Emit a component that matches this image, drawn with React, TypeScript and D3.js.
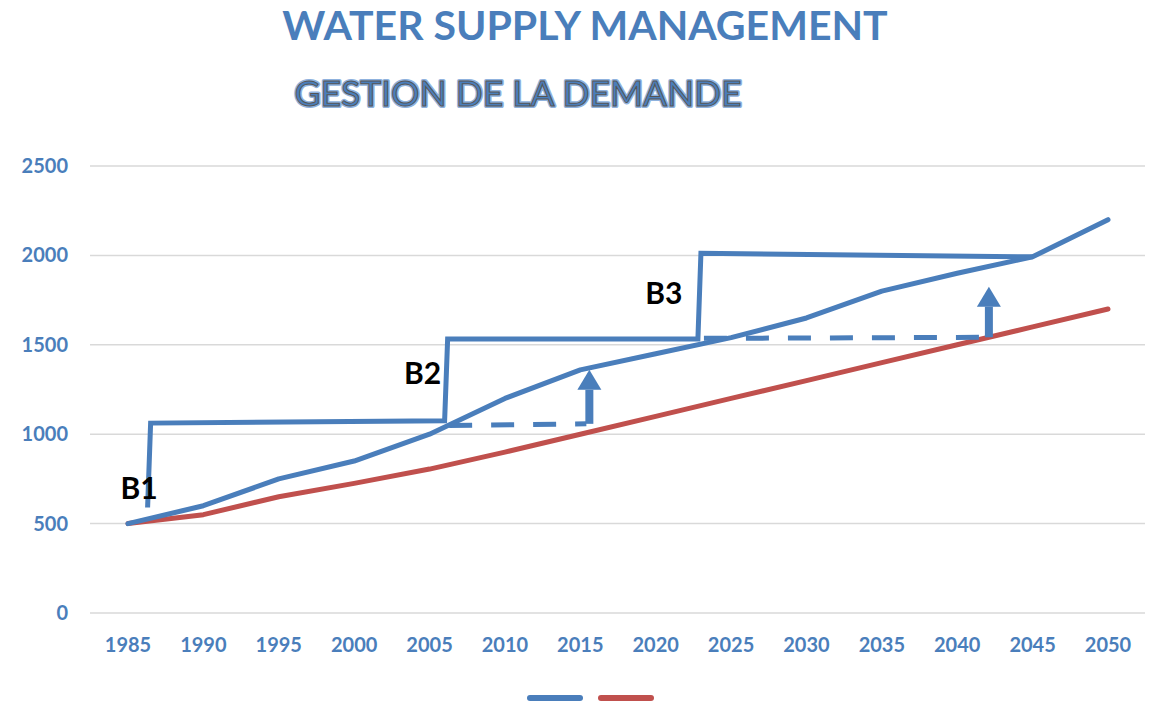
import * as d3 from "d3";

// demand, unmanaged vs managed, million m3
const years = [1985, 1990, 1995, 2000, 2005, 2010, 2015, 2020, 2025, 2030, 2035, 2040, 2045, 2050];
const demandBlue = [500, 600, 750, 850, 1000, 1200, 1360, 1450, 1540, 1650, 1800, 1900, 1992, 2200];
const demandRed = [500, 550, 650, 725, 805, 900, 1000, 1100, 1200, 1300, 1400, 1500, 1600, 1700];

// supply steps (barrages B1..B3)
const supplyYears = [1986.3, 1986.5, 2006, 2006.2, 2022.8, 2023, 2045];
const supplyValues = [590, 1062, 1075, 1532, 1532, 2012, 1992];

// deferred-investment dashed lines
const dash1 = [[2006.3, 1048], [2015.4, 1058]];
const dash2 = [[2023.2, 1536], [2041.8, 1542]];

// arrows: year, from, to
const arrows = [
  { year: 2015.6, from: 1058, to: 1360 },
  { year: 2042.1, from: 1542, to: 1825 },
];

const bLabels = [
  { text: "B1", year: 1984.5, value: 640 },
  { text: "B2", year: 2003.3, value: 1280 },
  { text: "B3", year: 2019.3, value: 1730 },
];

const yTicks = [0, 500, 1000, 1500, 2000, 2500];

const BLUE = "#4a7ebb";
const RED = "#c0504d";
const FONT = "Lato, 'Open Sans', sans-serif";

export default function App() {
  const x = d3.scaleLinear().domain([1985, 2050]).range([128, 1108]);
  const y = d3.scaleLinear().domain([0, 2500]).range([613, 166]);

  const line = d3.line<[number, number]>().x((d) => x(d[0])).y((d) => y(d[1]));
  const bluePts = years.map((yr, i) => [yr, demandBlue[i]] as [number, number]);
  const redPts = years.map((yr, i) => [yr, demandRed[i]] as [number, number]);
  const supplyPts = supplyYears.map((yr, i) => [yr, supplyValues[i]] as [number, number]);

  const headH = 20;
  const headW = 12;

  return (
    <svg width={1157} height={710} style={{ position: "absolute", left: 0, top: 0, background: "#fff" }}>
      <text x={585} y={40} textAnchor="middle" fontFamily={FONT} fontWeight="bold" fontSize={41} fill={BLUE}>
        WATER SUPPLY MANAGEMENT
      </text>
      <text x={518} y={106} textAnchor="middle" fontFamily={FONT} fontSize={35.5} fill="none" stroke="#8fb2de" strokeWidth={4} strokeLinejoin="round">
        GESTION DE LA DEMANDE
      </text>
      <text x={518} y={106} textAnchor="middle" fontFamily={FONT} fontSize={35.5} fill={BLUE} stroke="#555" strokeWidth={1}>
        GESTION DE LA DEMANDE
      </text>

      {/* grid */}
      {yTicks.map((t) => (
        <g key={t}>
          <line x1={90} x2={1145} y1={y(t)} y2={y(t)} stroke="#d9d9d9" strokeWidth={1.5} />
          <text x={68} y={y(t)} dy="0.35em" textAnchor="end" fontFamily={FONT} fontWeight="bold" fontSize={20} fill={BLUE}>
            {t}
          </text>
        </g>
      ))}
      {years.map((yr) => (
        <text key={yr} x={x(yr)} y={652} textAnchor="middle" fontFamily={FONT} fontWeight="bold" fontSize={20} fill={BLUE}>
          {yr}
        </text>
      ))}

      <path d={line(redPts) || ""} fill="none" stroke={RED} strokeWidth={5} strokeLinecap="round" strokeLinejoin="round" />
      <path d={line(bluePts) || ""} fill="none" stroke={BLUE} strokeWidth={5} strokeLinecap="round" strokeLinejoin="round" />
      <path d={line(supplyPts) || ""} fill="none" stroke={BLUE} strokeWidth={5} />
      {[dash1, dash2].map((d, i) => (
        <path key={i} d={line(d as [number, number][]) || ""} fill="none" stroke={BLUE} strokeWidth={5} strokeDasharray="23,19" />
      ))}

      {arrows.map((a, i) => {
        const ax = x(a.year);
        const tip = y(a.to);
        return (
          <g key={i}>
            <line x1={ax} x2={ax} y1={y(a.from)} y2={tip + headH} stroke={BLUE} strokeWidth={8} />
            <path d={`M${ax - headW},${tip + headH}L${ax + headW},${tip + headH}L${ax},${tip}Z`} fill={BLUE} />
          </g>
        );
      })}

      {bLabels.map((b) => (
        <text key={b.text} x={x(b.year)} y={y(b.value)} fontFamily={FONT} fontWeight="bold" fontSize={30} fill="#000">
          {b.text}
        </text>
      ))}

      {/* legend */}
      <line x1={530} x2={580} y1={698} y2={698} stroke={BLUE} strokeWidth={6} strokeLinecap="round" />
      <line x1={601} x2={651} y1={698} y2={698} stroke={RED} strokeWidth={6} strokeLinecap="round" />
    </svg>
  );
}
